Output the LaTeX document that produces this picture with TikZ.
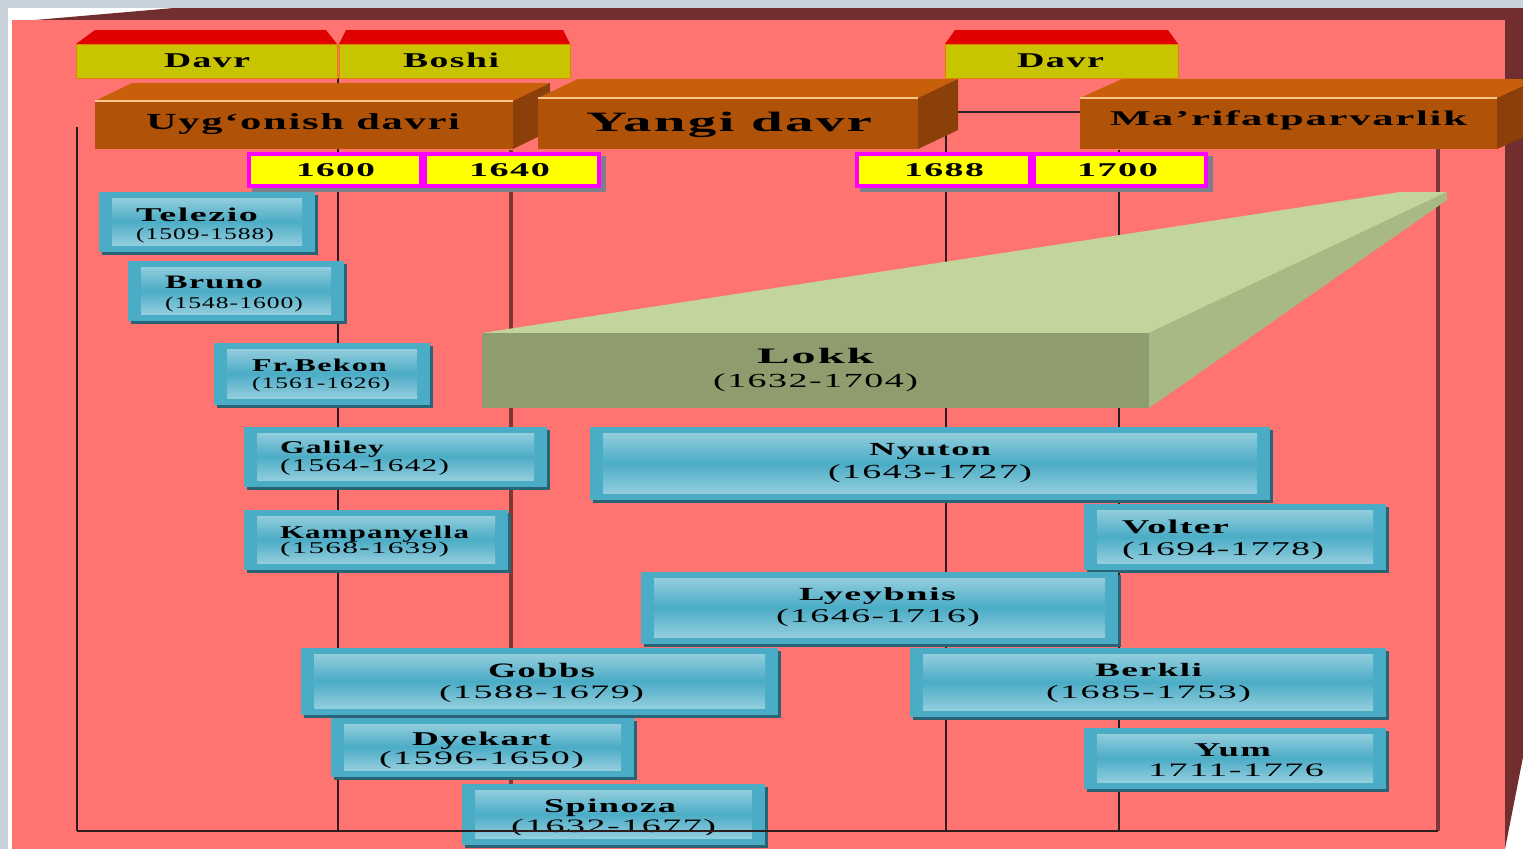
\documentclass[tikz,border=0pt]{standalone}
\usepackage{fontspec}
\usepackage{graphicx}
\setmainfont[LetterSpace=4]{Liberation Serif}
\usetikzlibrary{calc}
\definecolor{bggray}{RGB}{200,210,218}
\definecolor{maroonc}{RGB}{114,46,46}
\definecolor{pinkbg}{RGB}{255,115,112}
\definecolor{lnd}{RGB}{45,30,30}
\definecolor{lnm}{RGB}{125,55,55}
\definecolor{hdry}{RGB}{200,196,0}
\definecolor{hdrr}{RGB}{224,0,0}
\definecolor{hdrb}{RGB}{225,130,0}
\definecolor{pfrontc}{RGB}{176,82,8}
\definecolor{ptopc}{RGB}{200,95,10}
\definecolor{psidec}{RGB}{138,64,8}
\definecolor{phlc}{RGB}{250,200,140}
\definecolor{yrfill}{RGB}{255,255,0}
\definecolor{yrbord}{RGB}{255,0,255}
\definecolor{yrshadow}{RGB}{125,125,140}
\definecolor{bluebase}{RGB}{75,172,198}
\definecolor{bluelight}{RGB}{146,205,221}
\definecolor{blueshadow}{RGB}{40,100,118}
\definecolor{lkfront}{RGB}{143,156,110}
\definecolor{lktop}{RGB}{194,214,155}
\definecolor{lkside}{RGB}{169,185,132}

% text: name, x, baseline, width, size, series, text
\newcommand\tl[7]{\node[txt, anchor=base west] (#1) at (#2,#3) {\fontsize{#5}{#5}\selectfont#6\resizebox{#4pt}{\height}{#7}};}
% header box: x1, x2, left inset, right inset
\newcommand\hdrbox[4]{%
  \fill[hdrr] (#1,44) -- (#1+#3,30) -- (#2-#4,30) -- (#2,44) -- cycle;
  \filldraw[fill=hdry, draw=hdrb, line width=1] (#1,44) rectangle (#2,78);}
% period box: x1,y1,x2,y2,dx,dy
\newcommand\perbox[6]{%
  \fill[ptopc] (#1,#2) -- (#1+#5,#2-#6) -- (#3+#5,#2-#6) -- (#3,#2) -- cycle;
  \fill[psidec] (#3,#2) -- (#3+#5,#2-#6) -- (#3+#5,#4-#6) -- (#3,#4) -- cycle;
  \fill[pfrontc] (#1,#2) rectangle (#3,#4);
  \draw[phlc, line width=1.2] (#1,#2) -- (#3,#2);}
% year box: x1, x2
\newcommand\yrbox[2]{%
  \fill[yrshadow] (#1+5,156) rectangle (#2+5,192);
  \filldraw[fill=yrfill, draw=yrbord, line width=4] (#1+2,154) rectangle (#2-2,186);}
% blue box: x1,y1,x2,y2
\newcommand\pbox[4]{%
  \fill[blueshadow] (#1+3,#2+3) rectangle (#3+3,#4+3);
  \fill[bluebase] (#1,#2) rectangle (#3,#4);
  \shade[top color=bluelight, bottom color=bluelight, middle color=bluebase] (#1+13,#2+6) rectangle (#3-13,#4-7);}

\begin{document}
\begin{tikzpicture}[x=1pt,y=-1pt,
  txt/.style={inner sep=0pt, outer sep=0pt, text=black},
  thinln/.style={draw=lnd, line width=1.8},
  thickln/.style={draw=lnm, line width=3.5}]
\useasboundingbox (0,0) rectangle (1523,849);
% frame
\fill[bggray] (0,0) rectangle (1523,849);
\fill[white] (8,8) rectangle (1523,849);
\fill[maroonc] (35,20) -- (174,8) -- (1523,8) -- (1523,20) -- cycle;
\fill[pinkbg] (12,20) rectangle (1505,849);
\fill[maroonc] (1505,20) -- (1523,8) -- (1523,757) -- (1505,849) -- cycle;

% grid lines
\draw[thinln, line width=2.2] (77,127) -- (77,831);
\draw[thinln] (338,78) -- (338,831);
\draw[thinln] (946,78) -- (946,831);
\draw[thinln] (1119,150) -- (1119,831);
\draw[thinln] (946,112) -- (1438,112);
\draw[thickln] (511,150) -- (511,831);
\draw[thickln] (1438,112) -- (1438,831);

% headers
\hdrbox{76}{337}{19}{11}
\hdrbox{339}{570}{7}{7}
\hdrbox{945}{1178}{10}{10}
\tl{h1}{164}{67}{86}{21}{\bfseries}{Davr}
\tl{h2}{403}{67}{96}{21}{\bfseries}{Boshi}
\tl{h3}{1017}{67}{87}{21}{\bfseries}{Davr}

% periods
\perbox{95}{101}{513}{149}{37}{18}
\perbox{538}{98}{918}{149}{40}{19}
\perbox{1080}{98}{1497}{149}{42}{19}
\tl{p1}{146}{129}{314}{23}{\bfseries}{Uyg‘onish davri}
\tl{p2}{586}{131}{286}{28}{\bfseries}{Yangi davr}
\tl{p3}{1110}{125}{357}{21}{\bfseries}{Ma’rifatparvarlik}

% years
\yrbox{247}{423}
\yrbox{423}{601}
\yrbox{855}{1032}
\yrbox{1032}{1208}
\tl{y1}{296}{176}{79}{19.5}{\bfseries}{1600}
\tl{y2}{469}{176}{81}{19.5}{\bfseries}{1640}
\tl{y3}{904}{176}{80}{19.5}{\bfseries}{1688}
\tl{y4}{1077}{176}{81}{19.5}{\bfseries}{1700}

% Lokk wedge
\fill[lktop] (482,333) -- (1400,192) -- (1447,192) -- (1149,333) -- cycle;
\fill[lkside] (1149,333) -- (1447,192) -- (1447,200) -- (1149,408) -- cycle;
\fill[lkfront] (482,333) rectangle (1149,408);
\tl{lokk}{757}{363}{117}{22}{\bfseries}{Lokk}
\tl{lokky}{713}{387}{205}{20}{\mdseries}{(1632-1704)}

% philosophers
\pbox{99}{192}{315}{252}
\tl{telezio}{136}{221}{122}{19.5}{\bfseries}{Telezio}
\tl{telezioy}{136}{239}{138}{16.5}{\mdseries}{(1509-1588)}
\pbox{128}{261}{344}{321}
\tl{bruno}{165}{288}{98}{19}{\bfseries}{Bruno}
\tl{brunoy}{165}{308}{138}{16.5}{\mdseries}{(1548-1600)}
\pbox{214}{343}{430}{405}
\tl{bekon}{252}{371}{135}{18}{\bfseries}{Fr.Bekon}
\tl{bekony}{252}{388}{138}{16}{\mdseries}{(1561-1626)}
\pbox{244}{427}{547}{487}
\tl{galiley}{280}{453}{104}{18}{\bfseries}{Galiley}
\tl{galileyy}{280}{471}{169}{18}{\mdseries}{(1564-1642)}
\pbox{244}{510}{508}{570}
\tl{kamp}{280}{538}{189}{18}{\bfseries}{Kampanyella}
\tl{kampy}{280}{553}{169}{16.5}{\mdseries}{(1568-1639)}
\pbox{590}{427}{1270}{500}
\tl{nyuton}{869}{455}{122}{18.5}{\bfseries}{Nyuton}
\tl{nyutony}{828}{478}{204}{20}{\mdseries}{(1643-1727)}
\pbox{1084}{504}{1386}{570}
\tl{volter}{1122}{533}{107}{19.5}{\bfseries}{Volter}
\tl{voltery}{1122}{555}{202}{19.5}{\mdseries}{(1694-1778)}
\pbox{641}{572}{1118}{644}
\tl{leib}{799}{600}{157}{18.5}{\bfseries}{Lyeybnis}
\tl{leiby}{776}{622}{204}{19.5}{\mdseries}{(1646-1716)}
\pbox{301}{648}{778}{715}
\tl{gobbs}{488}{677}{107}{20.5}{\bfseries}{Gobbs}
\tl{gobbsy}{439}{698}{205}{19}{\mdseries}{(1588-1679)}
\pbox{910}{648}{1386}{717}
\tl{berkli}{1095}{676}{107}{19}{\bfseries}{Berkli}
\tl{berkliy}{1046}{698}{205}{19}{\mdseries}{(1685-1753)}
\pbox{331}{718}{634}{777}
\tl{dekart}{412}{745}{139}{19.5}{\bfseries}{Dyekart}
\tl{dekarty}{379}{764}{205}{19}{\mdseries}{(1596-1650)}
\pbox{1084}{728}{1386}{789}
\tl{yum}{1194}{756}{77}{19.5}{\bfseries}{Yum}
\tl{yumy}{1148}{776}{176}{19}{\mdseries}{1711-1776}
\pbox{462}{784}{765}{845}
\tl{spinoza}{544}{812}{132}{19.5}{\bfseries}{Spinoza}
\begin{scope}
\clip (462,784) rectangle (765,834);
\tl{spinozay}{511}{832}{205}{19}{\mdseries}{(1632-1677)}
\end{scope}

% bottom line over boxes
\draw[thinln, line width=1.6] (77,831) -- (1438,831);
\end{tikzpicture}
\end{document}
